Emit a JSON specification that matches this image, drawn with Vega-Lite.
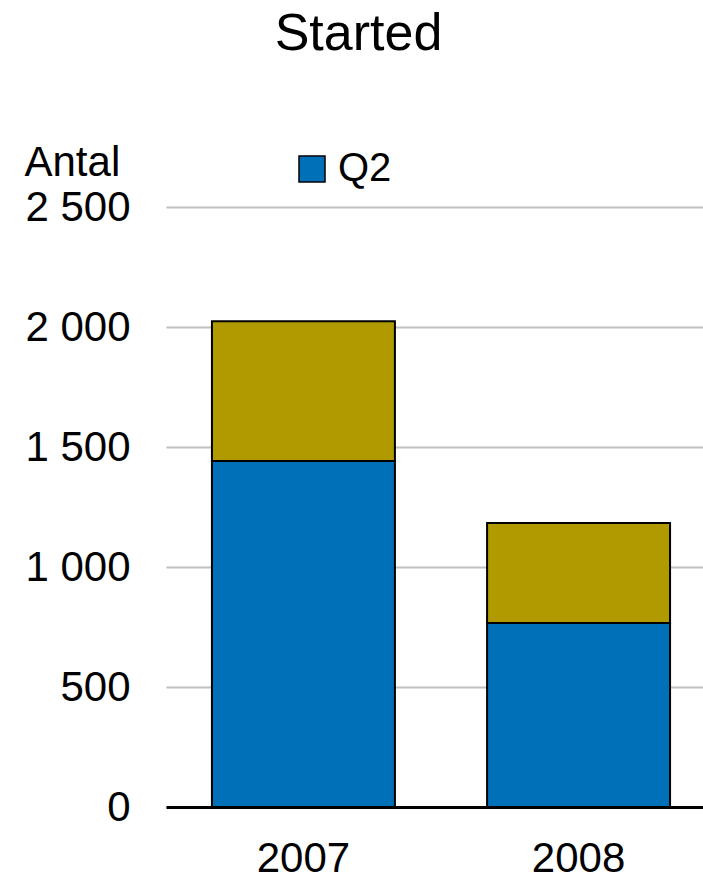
{
  "$schema": "https://vega.github.io/schema/vega-lite/v6.json",
  "autosize": {"type": "none"},
  "width": 537,
  "height": 600,
  "padding": {"left": 166, "top": 207, "right": 0, "bottom": 73},
  "background": "white",
  "title": {
    "text": "Started",
    "fontSize": 52,
    "font": "Liberation Sans",
    "fontWeight": "normal",
    "color": "black",
    "anchor": "middle",
    "dx": -76,
    "offset": 80
  },
  "data": {
    "values": [
      {"year": "2007", "serie": "Q2", "antal": 1442},
      {"year": "2007", "serie": "Q1", "antal": 582},
      {"year": "2008", "serie": "Q2", "antal": 767},
      {"year": "2008", "serie": "Q1", "antal": 416}
    ]
  },
  "config": {
    "view": {"stroke": null},
    "font": "Liberation Sans"
  },
  "mark": {"type": "bar", "stroke": "black", "strokeWidth": 2},
  "encoding": {
    "x": {
      "field": "year",
      "type": "nominal",
      "scale": {"range": [0, 550], "paddingInner": 0.335, "paddingOuter": 0.167},
      "axis": {
        "title": null,
        "labelAngle": 0,
        "labelFontSize": 42,
        "labelColor": "black",
        "labelFont": "Liberation Sans",
        "ticks": false,
        "labelPadding": 31,
        "domainColor": "black",
        "domainWidth": 3,
        "zindex": 1
      }
    },
    "y": {
      "field": "antal",
      "type": "quantitative",
      "stack": "zero",
      "scale": {"domain": [0, 2500], "nice": false},
      "axis": {
        "values": [0, 500, 1000, 1500, 2000, 2500],
        "labelExpr": "replace(format(datum.value, ','), ',', ' ')",
        "labelFontSize": 42,
        "labelColor": "black",
        "labelFont": "Liberation Sans",
        "labelPadding": 36,
        "ticks": false,
        "domain": false,
        "gridColor": "#c0c0c0",
        "gridWidth": 2,
        "title": "Antal",
        "titleAngle": 0,
        "titleFontSize": 42,
        "titleFontWeight": "normal",
        "titleFont": "Liberation Sans",
        "titleColor": "black",
        "titleAlign": "left",
        "titleBaseline": "middle",
        "titleX": -142,
        "titleY": -45
      }
    },
    "color": {
      "field": "serie",
      "type": "nominal",
      "scale": {"domain": ["Q2", "Q1"], "range": ["#0070b8", "#b09a00"]},
      "legend": {
        "values": ["Q2"],
        "title": null,
        "orient": "none",
        "legendX": 126,
        "legendY": -58,
        "symbolType": "square",
        "symbolSize": 676,
        "symbolStrokeColor": "black",
        "symbolStrokeWidth": 1.5,
        "labelFontSize": 40,
        "labelFont": "Liberation Sans",
        "labelColor": "black",
        "labelOffset": 6
      }
    },
    "order": {"field": "serie", "sort": "descending"}
  }
}
